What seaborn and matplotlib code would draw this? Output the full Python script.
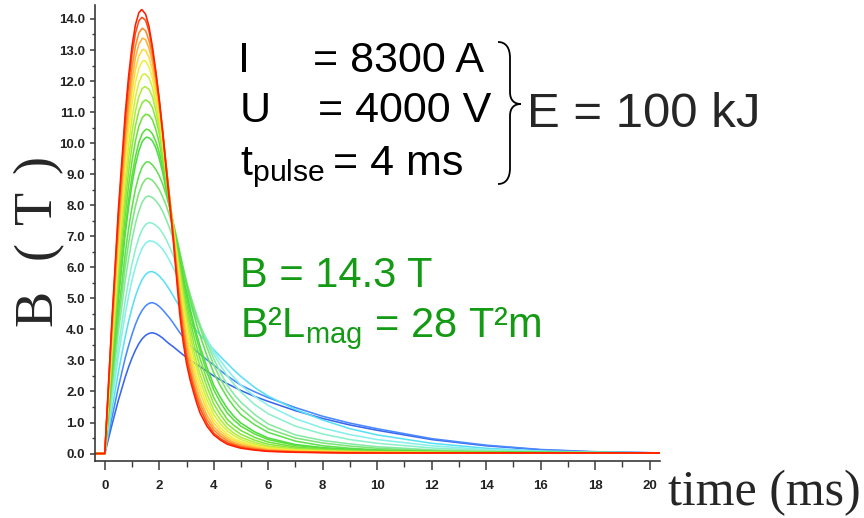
import matplotlib
matplotlib.use("Agg")
import matplotlib.pyplot as plt
from matplotlib.path import Path
from matplotlib.patches import PathPatch
from matplotlib.ticker import MultipleLocator, FormatStrFormatter
import pandas as pd
import seaborn as sns

# ---- pulse traces: field B (T) versus time (ms) for a family of coil designs ----
time_ms = [-0.4, 0.0, 0.25, 0.5, 0.75, 0.875, 1.0, 1.125, 1.25, 1.375, 1.5, 1.625,
           1.75, 1.875, 2.0, 2.125, 2.25, 2.375, 2.5, 2.625, 2.75, 2.875, 3.0, 3.125,
           3.25, 3.375, 3.5, 3.75, 4.0, 4.25, 4.5, 4.75, 5.0, 5.5, 6.0, 7.0, 8.0, 9.0,
           10.0, 12.0, 14.0, 16.0, 18.0, 20.4]

field_T = [
    [0, 0, 4.10, 7.87, 10.95, 12.17, 13.13, 13.81, 14.20, 14.29, 14.15, 13.75, 13.10, 12.30, 11.40, 10.35, 9.20, 8.10, 7.00, 5.75, 4.50, 3.60, 2.90, 2.40, 2.00, 1.62, 1.30,
     0.88, 0.60, 0.43, 0.30, 0.23, 0.17, 0.11, 0.07, 0.04, 0.03, 0.02, 0.02, 0.02, 0.02, 0.02, 0.02, 0.02],
    [0, 0, 4.00, 7.67, 10.71, 11.90, 12.86, 13.54, 13.94, 14.05, 13.95, 13.60, 13.00, 12.25, 11.40, 10.40, 9.30, 8.20, 7.10, 5.90, 4.75, 3.85, 3.10, 2.58, 2.15, 1.77, 1.45,
     0.98, 0.66, 0.48, 0.35, 0.27, 0.20, 0.13, 0.08, 0.05, 0.03, 0.02, 0.02, 0.02, 0.02, 0.02, 0.02, 0.02],
    [0, 0, 3.85, 7.38, 10.32, 11.49, 12.44, 13.12, 13.55, 13.70, 13.62, 13.30, 12.80, 12.10, 11.30, 10.35, 9.30, 8.25, 7.20, 6.05, 4.95, 4.05, 3.30, 2.75, 2.30, 1.92, 1.60,
     1.10, 0.76, 0.56, 0.41, 0.31, 0.24, 0.16, 0.10, 0.06, 0.04, 0.03, 0.03, 0.02, 0.02, 0.02, 0.02, 0.02],
    [0, 0, 3.71, 7.12, 9.98, 11.12, 12.06, 12.75, 13.19, 13.37, 13.33, 13.05, 12.60, 11.95, 11.20, 10.30, 9.30, 8.28, 7.25, 6.18, 5.15, 4.30, 3.55, 2.98, 2.50, 2.10, 1.75,
     1.23, 0.86, 0.64, 0.47, 0.36, 0.28, 0.19, 0.12, 0.07, 0.05, 0.04, 0.03, 0.02, 0.02, 0.02, 0.02, 0.02],
    [0, 0, 3.58, 6.87, 9.66, 10.78, 11.68, 12.37, 12.81, 13.00, 12.98, 12.75, 12.35, 11.75, 11.05, 10.20, 9.25, 8.28, 7.30, 6.30, 5.35, 4.53, 3.80, 3.20, 2.70, 2.30, 1.95,
     1.40, 0.98, 0.73, 0.54, 0.42, 0.33, 0.22, 0.14, 0.08, 0.06, 0.04, 0.03, 0.02, 0.02, 0.02, 0.02, 0.02],
    [0, 0, 3.43, 6.61, 9.29, 10.38, 11.27, 11.95, 12.41, 12.63, 12.64, 12.45, 12.10, 11.55, 10.90, 10.10, 9.20, 8.28, 7.35, 6.40, 5.50, 4.70, 4.00, 3.40, 2.90, 2.50, 2.15,
     1.55, 1.10, 0.83, 0.62, 0.48, 0.38, 0.26, 0.17, 0.10, 0.07, 0.05, 0.04, 0.03, 0.02, 0.02, 0.02, 0.02],
    [0, 0, 3.28, 6.31, 8.88, 9.93, 10.81, 11.48, 11.95, 12.19, 12.22, 12.10, 11.80, 11.30, 10.70, 9.95, 9.10, 8.25, 7.40, 6.53, 5.70, 4.93, 4.25, 3.65, 3.15, 2.72, 2.35,
     1.73, 1.25, 0.95, 0.72, 0.57, 0.45, 0.30, 0.20, 0.12, 0.08, 0.06, 0.05, 0.03, 0.02, 0.02, 0.02, 0.02],
    [0, 0, 3.12, 6.02, 8.49, 9.52, 10.35, 11.03, 11.50, 11.76, 11.81, 11.73, 11.50, 11.05, 10.50, 9.80, 9.00, 8.20, 7.40, 6.60, 5.85, 5.12, 4.45, 3.87, 3.35, 2.92, 2.55,
     1.92, 1.40, 1.08, 0.82, 0.65, 0.52, 0.36, 0.24, 0.14, 0.10, 0.07, 0.05, 0.04, 0.03, 0.02, 0.02, 0.02],
    [0, 0, 2.97, 5.73, 8.10, 9.08, 9.90, 10.56, 11.03, 11.31, 11.39, 11.33, 11.15, 10.78, 10.30, 9.65, 8.90, 8.15, 7.40, 6.65, 5.95, 5.28, 4.65, 4.10, 3.60, 3.17, 2.80,
     2.15, 1.60, 1.24, 0.95, 0.77, 0.62, 0.43, 0.30, 0.17, 0.12, 0.08, 0.06, 0.04, 0.03, 0.02, 0.02, 0.02],
    [0, 0, 2.81, 5.43, 7.68, 8.63, 9.42, 10.07, 10.54, 10.82, 10.93, 10.90, 10.75, 10.43, 10.00, 9.42, 8.75, 8.07, 7.40, 6.72, 6.05, 5.43, 4.85, 4.33, 3.85, 3.43, 3.05,
     2.38, 1.80, 1.42, 1.10, 0.90, 0.74, 0.52, 0.37, 0.21, 0.14, 0.10, 0.07, 0.05, 0.03, 0.02, 0.02, 0.02],
    [0, 0, 2.65, 5.13, 7.27, 8.17, 8.95, 9.56, 10.02, 10.31, 10.44, 10.42, 10.30, 10.05, 9.70, 9.20, 8.60, 8.00, 7.40, 6.80, 6.20, 5.60, 5.05, 4.55, 4.10, 3.68, 3.30,
     2.62, 2.05, 1.64, 1.30, 1.07, 0.88, 0.63, 0.45, 0.26, 0.17, 0.12, 0.09, 0.06, 0.04, 0.03, 0.02, 0.02],
    [0, 0, 2.57, 4.97, 7.06, 7.94, 8.68, 9.29, 9.75, 10.05, 10.18, 10.17, 10.07, 9.85, 9.50, 9.05, 8.50, 7.95, 7.40, 6.85, 6.30, 5.73, 5.20, 4.70, 4.25, 3.83, 3.45,
     2.78, 2.20, 1.80, 1.45, 1.19, 0.98, 0.70, 0.50, 0.29, 0.19, 0.14, 0.10, 0.06, 0.04, 0.03, 0.02, 0.02],
    [0, 0, 2.34, 4.53, 6.44, 7.25, 7.94, 8.52, 8.95, 9.24, 9.38, 9.39, 9.30, 9.15, 8.95, 8.68, 8.35, 7.95, 7.50, 7.02, 6.50, 5.97, 5.45, 4.98, 4.55, 4.15, 3.80,
     3.15, 2.60, 2.17, 1.80, 1.50, 1.25, 0.93, 0.68, 0.40, 0.25, 0.17, 0.12, 0.07, 0.05, 0.04, 0.03, 0.02],
    [0, 0, 2.18, 4.23, 6.02, 6.78, 7.43, 7.97, 8.39, 8.68, 8.84, 8.86, 8.80, 8.67, 8.50, 8.27, 8.00, 7.67, 7.30, 6.90, 6.45, 6.00, 5.55, 5.13, 4.75, 4.38, 4.05,
     3.42, 2.85, 2.40, 2.00, 1.70, 1.45, 1.08, 0.80, 0.50, 0.34, 0.24, 0.17, 0.09, 0.05, 0.04, 0.03, 0.02],
    [0, 0, 2.02, 3.91, 5.57, 6.28, 6.90, 7.41, 7.81, 8.10, 8.26, 8.29, 8.25, 8.14, 8.00, 7.80, 7.55, 7.27, 6.95, 6.60, 6.25, 5.87, 5.50, 5.14, 4.80, 4.47, 4.15,
     3.57, 3.05, 2.60, 2.20, 1.90, 1.65, 1.26, 0.95, 0.60, 0.42, 0.31, 0.22, 0.12, 0.07, 0.05, 0.03, 0.02],
    [0, 0, 1.78, 3.44, 4.93, 5.56, 6.11, 6.58, 6.95, 7.22, 7.38, 7.44, 7.42, 7.35, 7.25, 7.10, 6.90, 6.67, 6.40, 6.13, 5.85, 5.55, 5.25, 4.95, 4.65, 4.37, 4.10,
     3.62, 3.20, 2.83, 2.50, 2.22, 1.98, 1.58, 1.28, 0.88, 0.63, 0.45, 0.33, 0.18, 0.10, 0.06, 0.03, 0.02],
    [0, 0, 1.62, 3.14, 4.49, 5.07, 5.58, 6.01, 6.36, 6.62, 6.78, 6.85, 6.84, 6.79, 6.70, 6.58, 6.42, 6.22, 6.00, 5.78, 5.55, 5.30, 5.05, 4.80, 4.55, 4.32, 4.10,
     3.68, 3.30, 2.98, 2.70, 2.44, 2.20, 1.84, 1.55, 1.12, 0.82, 0.61, 0.45, 0.25, 0.13, 0.07, 0.04, 0.02],
    [0, 0, 1.35, 2.63, 3.76, 4.26, 4.69, 5.07, 5.37, 5.61, 5.77, 5.85, 5.86, 5.81, 5.72, 5.60, 5.45, 5.28, 5.10, 4.91, 4.72, 4.55, 4.38, 4.22, 4.08, 3.95, 3.82,
     3.58, 3.35, 3.12, 2.90, 2.68, 2.48, 2.13, 1.85, 1.42, 1.08, 0.80, 0.60, 0.33, 0.17, 0.08, 0.04, 0.02],
    [0, 0, 1.10, 2.14, 3.08, 3.48, 3.84, 4.16, 4.42, 4.62, 4.76, 4.84, 4.86, 4.82, 4.74, 4.63, 4.50, 4.37, 4.22, 4.06, 3.90, 3.75, 3.60, 3.49, 3.39, 3.29, 3.20,
     3.02, 2.85, 2.67, 2.50, 2.35, 2.20, 1.99, 1.80, 1.48, 1.20, 0.98, 0.80, 0.48, 0.27, 0.13, 0.06, 0.02],
    [0, 0, 0.88, 1.72, 2.46, 2.79, 3.08, 3.33, 3.54, 3.70, 3.81, 3.87, 3.89, 3.86, 3.80, 3.72, 3.62, 3.53, 3.45, 3.36, 3.27, 3.18, 3.10, 3.02, 2.94, 2.87, 2.80,
     2.65, 2.50, 2.37, 2.25, 2.14, 2.03, 1.84, 1.68, 1.38, 1.13, 0.92, 0.75, 0.45, 0.25, 0.12, 0.05, 0.02],
]

# maximum of every trace
peak_time_ms = [1.35, 1.36, 1.38, 1.40, 1.41, 1.43, 1.45, 1.47, 1.49, 1.51,
                1.53, 1.54, 1.56, 1.58, 1.60, 1.63, 1.65, 1.69, 1.72, 1.72]
peak_field_T = [14.3, 14.05, 13.70, 13.38, 13.02, 12.66, 12.23, 11.82, 11.39, 10.93,
                10.45, 10.19, 9.40, 8.87, 8.30, 7.44, 6.85, 5.86, 4.86, 3.89]

line_colors = ["#ff1e00", "#ff4b14", "#ff8a28", "#ffb43a", "#ffd83c", "#f2ee3c",
               "#d4f03c", "#b0ec3c", "#8ce83c", "#6ee23c", "#5cde3c", "#50dc44",
               "#62e050", "#7ee478", "#86eaa4", "#8cf0cc", "#86f0ec", "#5ae0f4",
               "#4a88ff", "#3a66ee"]

x_ticks = list(range(0, 21, 2))
y_ticks = [float(v) for v in range(0, 15)]

# ---- long-form table ----
rows = []
for i, vals in enumerate(field_T):
    name = f"coil {i:02d}"
    pts = list(zip(time_ms, vals)) + [(peak_time_ms[i], peak_field_T[i])]
    pts.sort(key=lambda p: p[0])
    for t, b in pts:
        rows.append({"coil": name, "time": t, "B": b})
df = pd.DataFrame(rows)
names = [f"coil {i:02d}" for i in range(len(field_T))]
palette = dict(zip(names, line_colors))

sns.set_theme(style="ticks")
plt.rcParams["font.family"] = ["Liberation Sans", "DejaVu Sans"]
plt.rcParams["mathtext.fontset"] = "custom"
plt.rcParams["mathtext.rm"] = "Liberation Sans"

W, H = 864, 518
fig = plt.figure(figsize=(W / 100, H / 100), dpi=100)
ax = fig.add_axes([94.7 / W, (H - 461) / H, (660 - 94.7) / W, (461 - 5) / H])

sns.lineplot(data=df, x="time", y="B", hue="coil", hue_order=names[::-1],
             palette=palette, estimator=None, sort=True, legend=False,
             linewidth=1.15, ax=ax)

ax.set_xlim(-0.37, 20.38)
ax.set_ylim(-0.24, 14.45)
ax.set_xticks(x_ticks)
ax.set_yticks(y_ticks)
ax.xaxis.set_minor_locator(MultipleLocator(1))
ax.yaxis.set_minor_locator(MultipleLocator(0.5))
ax.yaxis.set_major_formatter(FormatStrFormatter("%.1f"))
ax.set_xlabel("")
ax.set_ylabel("")
for s in ("top", "right"):
    ax.spines[s].set_visible(False)
for s in ("left", "bottom"):
    ax.spines[s].set_color("#3a3a3a")
    ax.spines[s].set_linewidth(1.2)
ax.tick_params(axis="x", which="major", length=6.5, width=1.1, color="#3a3a3a", pad=7)
ax.tick_params(axis="x", which="minor", length=4, width=1.0, color="#3a3a3a")
ax.tick_params(axis="y", which="major", length=3.6, width=1.1, color="#3a3a3a", pad=3.5)
ax.tick_params(axis="y", which="minor", length=2.2, width=1.0, color="#3a3a3a")
for lab in ax.get_xticklabels() + ax.get_yticklabels():
    lab.set_fontweight("bold")
    lab.set_fontsize(9.5)
    lab.set_color("#222222")


def fp(x, y):
    return x / W, 1 - y / H


# y-axis title, set letter by letter so it spans the axis height
for ch, yc in zip(["B", "(", "T", ")"], [308, 250, 207, 164]):
    fig.text(*fp(51, yc), ch, family="Liberation Serif", fontsize=39,
             rotation=90, rotation_mode="anchor", ha="center", va="baseline")
fig.text(*fp(668, 505), "time (ms)", family="Liberation Serif", fontsize=36,
         ha="left", va="baseline")

# pulse parameters
big = dict(fontsize=31, ha="left", va="baseline", color="black")
fig.text(*fp(238, 72), "I", **big)
fig.text(*fp(313, 72), "= 8300 A", **big)
fig.text(*fp(240, 122), "U", **big)
fig.text(*fp(318, 122), "= 4000 V", **big)
fig.text(*fp(240, 175), r"t$_{\mathregular{pulse}}$", **big)
fig.text(*fp(333, 175), "= 4 ms", **big)
fig.text(*fp(527, 127), "E = 100 kJ", fontsize=35.5, ha="left", va="baseline")

# brace grouping I, U and t_pulse
brace_px = [(498, 42), (506, 42), (510, 48), (510, 58),
            (510, 92),
            (510, 100), (514, 104), (521, 104),
            (514, 104), (510, 108), (510, 116),
            (510, 168),
            (510, 178), (506, 184), (498, 184)]
codes = [Path.MOVETO, Path.CURVE4, Path.CURVE4, Path.CURVE4,
         Path.LINETO,
         Path.CURVE4, Path.CURVE4, Path.CURVE4,
         Path.CURVE4, Path.CURVE4, Path.CURVE4,
         Path.LINETO,
         Path.CURVE4, Path.CURVE4, Path.CURVE4]
brace = Path([fp(x, y) for x, y in brace_px], codes)
fig.patches.append(PathPatch(brace, transform=fig.transFigure, fill=False,
                             edgecolor="black", linewidth=1.3))

# field results
green = "#149a14"
fig.text(*fp(240, 287), "B = 14.3 T", fontsize=30, color=green, ha="left", va="baseline")
fig.text(*fp(240, 337), r"B²L$_{\mathregular{mag}}$ = 28 T²m", fontsize=30, color=green,
         ha="left", va="baseline")

fig.savefig("out.png", dpi=100, facecolor="white")
